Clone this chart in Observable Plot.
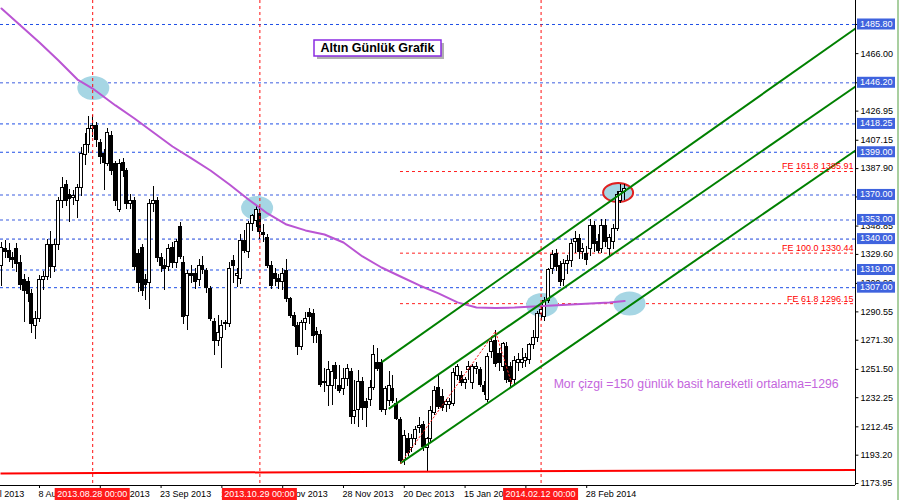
<!DOCTYPE html>
<html><head><meta charset="utf-8">
<script src="https://cdn.jsdelivr.net/npm/d3@7"></script>
<script src="https://cdn.jsdelivr.net/npm/@observablehq/plot@0.6"></script>
<style>body{margin:0;background:#fff;overflow:hidden;}</style>
</head><body><div id="chart"></div>
<script>
// Bar index: 0 = 8 Aug 2013 (one bar per trading day). First bar = 25 Jul 2013.
const firstBar = -10;
// Daily candles [open, high, low, close]
const ohlc = [
[1322,1338,1308,1334],[1333,1339,1327,1331],[1332,1337,1324,1327],[1327,1331,1320,1326],[1333,1337,1317,1323],
[1324,1329,1305,1309],[1312,1316,1283,1305],[1311,1314,1297,1303],[1303,1306,1276,1282],[1281,1291,1272,1286],
[1286,1315,1283,1312],[1312,1318,1305,1314],[1314,1340,1312,1336],[1336,1345,1313,1321],[1321,1340,1317,1336],
[1336,1368,1332,1366],[1366,1382,1361,1375],[1377,1380,1362,1366],[1370,1374,1351,1367],[1368,1373,1363,1369],
[1366,1377,1354,1375],[1375,1402,1369,1398],[1397,1412,1390,1404],[1404,1423,1398,1415],[1415,1424,1409,1417],
[1417,1419,1402,1407],[1405,1408,1391,1396],[1398,1401,1373,1392],[1391,1415,1389,1412],[1410,1413,1383,1386],
[1391,1393,1362,1366],[1360,1394,1358,1391],[1392,1395,1382,1386],[1386,1388,1360,1364],[1364,1370,1360,1366],
[1366,1368,1319,1321],[1330,1333,1304,1310],[1334,1336,1301,1305],[1312,1316,1298,1309],[1310,1367,1292,1364],
[1364,1376,1358,1366],[1366,1368,1324,1327],[1327,1330,1317,1322],[1322,1326,1305,1320],[1321,1336,1318,1333],
[1334,1338,1320,1324],[1324,1340,1320,1338],[1348,1351,1326,1328],[1324,1328,1282,1287],[1288,1319,1278,1316],
[1316,1322,1310,1315],[1316,1320,1306,1311],[1312,1326,1308,1322],[1322,1328,1316,1319],[1318,1320,1303,1307],
[1306,1308,1284,1286],[1284,1286,1261,1271],[1271,1288,1267,1276],[1273,1285,1252,1281],[1282,1285,1278,1283],
[1282,1324,1280,1320],[1325,1329,1310,1322],[1315,1320,1307,1316],[1313,1343,1309,1339],[1339,1346,1330,1332],
[1331,1352,1327,1350],[1350,1357,1345,1356],[1352,1362,1348,1360],[1357,1362,1340,1345],[1344,1350,1338,1343],
[1341,1343,1320,1322],[1322,1325,1306,1308],[1316,1320,1308,1313],[1313,1316,1306,1311],[1311,1320,1305,1316],
[1318,1326,1297,1299],[1299,1300,1286,1288],[1288,1290,1280,1281],[1281,1283,1261,1267],[1267,1285,1264,1283],
[1283,1290,1278,1286],[1290,1293,1282,1287],[1289,1292,1269,1274],[1277,1280,1269,1275],[1275,1278,1239,1241],
[1243,1252,1236,1242],[1240,1257,1226,1251],[1240,1254,1227,1250],[1254,1256,1238,1245],[1240,1254,1235,1237],
[1238,1252,1234,1245],[1245,1255,1240,1252],[1250,1252,1214,1219],[1219,1244,1214,1223],[1224,1251,1212,1243],
[1243,1246,1217,1225],[1229,1232,1212,1225],[1231,1244,1226,1239],[1239,1268,1237,1261],[1256,1266,1250,1252],
[1256,1258,1222,1224],[1224,1240,1220,1238],[1230,1250,1226,1240],[1238,1247,1228,1230],[1228,1232,1217,1218],
[1217,1219,1187,1189],[1190,1210,1186,1206],[1204,1208,1192,1195],[1198,1207,1195,1204],[1204,1213,1200,1210],
[1212,1219,1208,1213],[1214,1216,1196,1199],[1198,1205,1182,1204],[1204,1226,1202,1223],[1222,1240,1220,1237],
[1239,1247,1224,1226],[1233,1238,1223,1225],[1227,1231,1222,1229],[1227,1232,1224,1229],[1228,1252,1226,1249],
[1247,1255,1244,1253],[1247,1250,1240,1242],[1242,1246,1238,1244],[1251,1257,1244,1253],[1242,1255,1238,1253],
[1252,1256,1248,1253],[1251,1253,1239,1241],[1240,1243,1234,1236],[1231,1262,1229,1260],[1263,1274,1259,1270],
[1271,1278,1253,1255],[1262,1266,1250,1256],[1253,1270,1250,1269],[1267,1270,1242,1244],[1253,1256,1239,1243],
[1244,1260,1241,1257],[1256,1262,1250,1258],[1256,1266,1252,1258],[1257,1262,1253,1259],[1258,1269,1255,1268],
[1268,1278,1265,1273],[1273,1291,1270,1289],[1289,1295,1285,1292],[1287,1300,1284,1298],[1298,1320,1296,1319],
[1320,1332,1316,1329],[1330,1333,1318,1321],[1322,1325,1308,1311],[1312,1326,1308,1323],[1323,1329,1316,1325],
[1325,1340,1321,1337],[1338,1345,1330,1340],[1340,1343,1326,1331],[1331,1337,1326,1333],[1330,1335,1322,1326],
[1333,1353,1328,1349],[1349,1352,1331,1337],[1338,1343,1330,1332],[1333,1353,1330,1349],[1349,1353,1334,1338],
[1333,1343,1328,1341],[1338,1350,1333,1347],[1347,1372,1345,1370],[1366,1377,1364,1372],[1372,1377,1366,1374]
];
// 150-day simple moving average
const maIdx = [-10,-5,0,5,10,14,20,25,30,35,40,45,50,55,60,65,70,75,80,85,90,95,100,105,110,115,120,125,130,135,140,145,150,154];
const maVal = [1496.7,1485.1,1473.6,1461.3,1448.4,1442.3,1430.8,1421.9,1412.4,1402.9,1394.8,1386.6,1377.1,1366.9,1357.4,1349.9,1345.9,1343.1,1337.7,1328.2,1320.7,1314.6,1308.5,1303.1,1297.0,1293.5,1293.2,1293.5,1294.2,1294.9,1295.6,1296.3,1297.0,1298.0];
// Horizontal levels
const levels = [1485.80,1446.20,1418.25,1399.00,1370.00,1353.00,1340.00,1319.00,1307.00];
const levelLight = [false,true,false,false,true,true,true,false,false];
// Fibonacci expansion
const feVal = [1385.91,1330.44,1296.15];
const feText = ["FE 161.8 1385.91","FE 100.0 1330.44","FE 61.8 1296.15"];
const feStart = 95;
const zigIdx = [95,120,124.4];
const zigVal = [1187.5,1277.3,1240.7];
// Channel lines (start/end)
const chX1 = [90.1,91.9,95.0], chY1 = [1256.4,1224.7,1187.8];
const chX2 = [214.74,214.74,214.74], chY2 = [1483.1,1443.7,1400.2];
// Support line
const supX = [-10.26,214.74], supY = [1180.8,1183.2];
// Vertical markers
const vIdx = [14,58,132];
const vText = ["2013.08.28 00:00","2013.10.29 00:00","2014.02.12 00:00"];
// Axis ticks
const xTickIdx = [-16,0,16,32,48,64,80,96,112,128,144];
const xTickText = ["17 Jul 2013","8 Aug 2013","30 Aug 2013","23 Sep 2013","15 Oct 2013","6 Nov 2013","28 Nov 2013","20 Dec 2013","15 Jan 2014","6 Feb 2014","28 Feb 2014"];
const yTicks = [1485.80,1466.00,1446.20,1426.95,1407.15,1387.90,1368.65,1348.85,1329.60,1309.90,1290.55,1271.30,1251.50,1232.25,1212.45,1193.20,1173.95];
// Ellipse markers
const ellIdx = [14.3,57.4,132.4,155.4], ellVal = [1442.3,1360.8,1294.9,1295.9];
const ringIdx = 152.4, ringVal = 1371.3;
// Note
const noteText = "Mor çizgi =150 günlük basit hareketli ortalama=1296";
const noteIdx = 135.3, noteVal = 1241.2;
const titleText = "Altın Günlük Grafik";

const xDomain = [-10.26, 214.74];
const yDomain = [1172.6, 1502.1];
const FONT = "Liberation Sans, Arial, sans-serif";

const bars = ohlc.map((d,k)=>({i: firstBar+k, o:d[0], h:d[1], l:d[2], c:d[3]}));
const bull = bars.filter(d=>d.c>=d.o), bear = bars.filter(d=>d.c<d.o);
const ma = maIdx.map((i,k)=>({i, v: maVal[k]}));
const lvl = levels.map((v,k)=>({v, light: levelLight[k]}));
const fe = feVal.map((v,k)=>({v, t: feText[k]}));
const zig = zigIdx.map((i,k)=>({i, v: zigVal[k]}));
const chan = chX1.map((x1,k)=>({x1, y1: chY1[k], x2: chX2[k], y2: chY2[k]}));
const sup = [{x1: supX[0], y1: supY[0], x2: supX[1], y2: supY[1]}];
const xt = xTickIdx.map((i,k)=>({i, t: xTickText[k]}));

const plot = Plot.plot({
  width: 900, height: 500,
  marginTop: 0, marginRight: 45, marginBottom: 15, marginLeft: 0,
  x: {type: "linear", domain: xDomain, axis: null},
  y: {type: "linear", domain: yDomain, axis: null},
  style: {background: "white", fontFamily: FONT, fontSize: "9px", color: "black"},
  marks: [
    Plot.ruleY(lvl.filter(d=>d.light), {y: "v", stroke: "#7e94ea", strokeWidth: 1.6, strokeDasharray: "3,3"}),
    Plot.ruleY(lvl.filter(d=>!d.light), {y: "v", stroke: "#1f4fe6", strokeWidth: 1, strokeDasharray: "3,3"}),
    Plot.ruleY(fe, {y: "v", x1: () => feStart, x2: () => xDomain[1], stroke: "#ff2020", strokeWidth: 1, strokeDasharray: "3,3"}),
    (index, {x, y}) => {
      const g = d3.create("svg:g");
      ellIdx.forEach((i,k) => g.append("ellipse").attr("cx", x(i)).attr("cy", y(ellVal[k])).attr("rx", 16).attr("ry", 12).attr("fill", "#a6d6e4"));
      g.append("ellipse").attr("cx", x(ringIdx)).attr("cy", y(ringVal)).attr("rx", 15).attr("ry", 9.5)
        .attr("fill", "#a6d6e4").attr("stroke", "#e02020").attr("stroke-width", 2);
      return g.node();
    },
    Plot.ruleX(bars, {x: "i", y1: "l", y2: "h", stroke: "black", strokeWidth: 1, shapeRendering: "crispEdges"}),
    Plot.rect(bull, {x1: d=>d.i-0.4, x2: d=>d.i+0.4, y1: "o", y2: "c", fill: "white", stroke: "black", strokeWidth: 1, shapeRendering: "crispEdges"}),
    Plot.rect(bear, {x1: d=>d.i-0.4, x2: d=>d.i+0.4, y1: "o", y2: "c", fill: "black", stroke: "black", strokeWidth: 1, shapeRendering: "crispEdges"}),
    Plot.line(ma, {x: "i", y: "v", stroke: "#ba55d3", strokeWidth: 2}),
    Plot.ruleX(vIdx, {x: d=>d, stroke: "#ff1010", strokeWidth: 1, strokeDasharray: "3,3"}),
    Plot.link(chan, {x1: "x1", y1: "y1", x2: "x2", y2: "y2", stroke: "#008000", strokeWidth: 2}),
    Plot.line(zig, {x: "i", y: "v", stroke: "#ff2020", strokeWidth: 1, strokeDasharray: "1.5,2.5"}),
    Plot.link(sup, {x1: "x1", y1: "y1", x2: "x2", y2: "y2", stroke: "#ff0000", strokeWidth: 2}),
    Plot.ruleY([yDomain[0]], {stroke: "black", strokeWidth: 1}),
    Plot.ruleX([xDomain[1]], {stroke: "black", strokeWidth: 1}),
    Plot.ruleX(xTickIdx, {x: d=>d, y1: () => yDomain[0], y2: () => yDomain[0]+2, dy: 3, stroke: "black"}),
    Plot.text(xt, {x: "i", y: () => yDomain[0], text: "t", textAnchor: "start", dy: 9, dx: -1, fill: "black", fontSize: 9}),
    Plot.ruleY(yTicks, {y: d=>d, x1: () => xDomain[1], x2: () => xDomain[1]+0.9, stroke: "black"}),
    Plot.text(yTicks, {x: () => xDomain[1], y: d=>d, text: d=>d.toFixed(2), textAnchor: "start", dx: 5, fill: "black", fontSize: 9}),
    Plot.text(fe, {x: () => xDomain[1], y: "v", text: "t", textAnchor: "end", dx: -2, dy: -5, fill: "#ff0000", fontSize: 9}),
    Plot.text([noteText], {x: () => noteIdx, y: () => noteVal, text: d=>d, textAnchor: "start", fill: "#c466dd", fontSize: 12.3}),
    (index, {x, y}) => {
      const g = d3.create("svg:g").attr("font-family", FONT).attr("font-size", 9).attr("text-anchor", "start");
      const xr = x(xDomain[1]);
      levels.forEach(v => {
        const yy = y(v);
        g.append("rect").attr("x", xr + 2).attr("y", yy - 5.5).attr("width", 38).attr("height", 11).attr("fill", "#3f63de");
        g.append("text").attr("x", xr + 5).attr("y", yy).attr("dy", "0.32em").attr("text-anchor", "start").attr("fill", "white").text(v.toFixed(2));
      });
      vIdx.forEach((i,k) => {
        const xx = x(i);
        g.append("rect").attr("x", xx - 37.5).attr("y", 488).attr("width", 75).attr("height", 12).attr("fill", "#ff1a1a");
        g.append("text").attr("x", xx).attr("y", 494).attr("dy", "0.32em").attr("text-anchor", "middle").attr("fill", "white").text(vText[k]);
      });
      g.append("line").attr("x1", 898).attr("x2", 898).attr("y1", 0).attr("y2", 500).attr("stroke", "#a9cfa0").attr("stroke-width", 2);
      // title box
      g.append("rect").attr("x", 317).attr("y", 43).attr("width", 127).attr("height", 16).attr("fill", "#b0b0b0");
      g.append("rect").attr("x", 314).attr("y", 40).attr("width", 127).attr("height", 16).attr("fill", "white").attr("stroke", "#8a2be2").attr("stroke-width", 1.5);
      g.append("text").attr("x", 377.5).attr("y", 48).attr("dy", "0.35em").attr("text-anchor", "middle")
        .attr("font-weight", "bold").attr("font-size", 12.5).attr("fill", "black").text(titleText);
      return g.node();
    }
  ]
});
document.getElementById("chart").appendChild(plot);
</script>
</body></html>
